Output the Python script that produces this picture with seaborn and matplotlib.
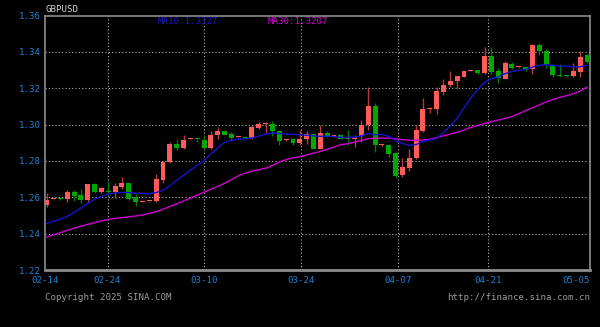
import matplotlib
matplotlib.use("Agg")
import matplotlib.pyplot as plt
import seaborn as sns
import numpy as np
import pandas as pd

# ---- data ----
opens = [1.2558, 1.2588, 1.2592, 1.2591, 1.2627, 1.2612, 1.2585, 1.2671, 1.2629, 1.2636,
         1.2627, 1.2658, 1.2676, 1.2600, 1.2576, 1.2578, 1.2578, 1.2696, 1.2792, 1.2895,
         1.2873, 1.2919, 1.2921, 1.2913, 1.2873, 1.2940, 1.2964, 1.2950, 1.2932, 1.2933,
         1.2928, 1.2982, 1.3003, 1.3004, 1.2964, 1.2915, 1.2918, 1.2899, 1.2918, 1.2946,
         1.2868, 1.2953, 1.2934, 1.2940, 1.2922, 1.2918, 1.2937, 1.2996, 1.3102, 1.2887,
         1.2887, 1.2841, 1.2723, 1.2759, 1.2818, 1.2965, 1.3083, 1.3087, 1.3178, 1.3220,
         1.3238, 1.3263, 1.3294, 1.3298, 1.3283, 1.3376, 1.3292, 1.3252, 1.3334, 1.3315,
         1.3316, 1.3307, 1.3438, 1.3407, 1.3325, 1.3274, 1.3274, 1.3265, 1.3288, 1.3380]
highs = [1.2624, 1.2592, 1.2597, 1.2640, 1.2640, 1.2643, 1.2671, 1.2681, 1.2655, 1.2691,
         1.2680, 1.2711, 1.2680, 1.2616, 1.2580, 1.2582, 1.2727, 1.2797, 1.2904, 1.2922,
         1.2944, 1.2923, 1.2922, 1.2944, 1.2967, 1.2986, 1.2971, 1.2958, 1.2936, 1.2935,
         1.2995, 1.3013, 1.3013, 1.3018, 1.2967, 1.2920, 1.2922, 1.2971, 1.2967, 1.2950,
         1.2995, 1.2967, 1.2937, 1.2942, 1.2971, 1.2944, 1.3027, 1.3205, 1.3118, 1.2892,
         1.2891, 1.2850, 1.2814, 1.2863, 1.3000, 1.3147, 1.3096, 1.3205, 1.3251, 1.3293,
         1.3269, 1.3296, 1.3298, 1.3298, 1.3426, 1.3426, 1.3310, 1.3347, 1.3343, 1.3318,
         1.3316, 1.3444, 1.3448, 1.3416, 1.3334, 1.3334, 1.3274, 1.3338, 1.3407, 1.3380]
lows = [1.2547, 1.2586, 1.2584, 1.2576, 1.2580, 1.2567, 1.2576, 1.2621, 1.2625, 1.2607,
        1.2598, 1.2645, 1.2585, 1.2554, 1.2574, 1.2576, 1.2574, 1.2678, 1.2787, 1.2859,
        1.2868, 1.2917, 1.2905, 1.2868, 1.2868, 1.2922, 1.2940, 1.2915, 1.2930, 1.2922,
        1.2919, 1.2976, 1.2949, 1.2937, 1.2886, 1.2912, 1.2886, 1.2886, 1.2895, 1.2865,
        1.2865, 1.2929, 1.2932, 1.2918, 1.2886, 1.2878, 1.2902, 1.2969, 1.2850, 1.2884,
        1.2821, 1.2707, 1.2714, 1.2745, 1.2810, 1.2960, 1.3065, 1.3060, 1.3163, 1.3209,
        1.3200, 1.3260, 1.3292, 1.3276, 1.3276, 1.3279, 1.3228, 1.3248, 1.3307, 1.3313,
        1.3292, 1.3279, 1.3380, 1.3310, 1.3261, 1.3261, 1.3261, 1.3261, 1.3261, 1.3338]
closes = [1.2585, 1.2590, 1.2588, 1.2627, 1.2605, 1.2585, 1.2671, 1.2627, 1.2651, 1.2631,
          1.2663, 1.2676, 1.2590, 1.2576, 1.2578, 1.2580, 1.2699, 1.2795, 1.2895, 1.2873,
          1.2917, 1.2921, 1.2918, 1.2873, 1.2944, 1.2964, 1.2944, 1.2928, 1.2934, 1.2924,
          1.2987, 1.3004, 1.3006, 1.2967, 1.2909, 1.2918, 1.2899, 1.2922, 1.2946, 1.2868,
          1.2953, 1.2935, 1.2936, 1.2922, 1.2918, 1.2922, 1.2999, 1.3102, 1.2890, 1.2889,
          1.2836, 1.2717, 1.2764, 1.2818, 1.2968, 1.3086, 1.3087, 1.3182, 1.3220, 1.3240,
          1.3265, 1.3294, 1.3296, 1.3283, 1.3376, 1.3288, 1.3257, 1.3338, 1.3312, 1.3317,
          1.3301, 1.3438, 1.3402, 1.3330, 1.3270, 1.3265, 1.3265, 1.3294, 1.3374, 1.3343]
ma10 = [1.2456, 1.2468, 1.2480, 1.2495, 1.2515, 1.2541, 1.2566, 1.2589, 1.2605, 1.2618,
        1.2623, 1.2626, 1.2626, 1.2622, 1.2622, 1.2619, 1.2626, 1.2638, 1.2664, 1.2694,
        1.2721, 1.2749, 1.2776, 1.2801, 1.2837, 1.2872, 1.2902, 1.2914, 1.2920, 1.2922,
        1.2926, 1.2937, 1.2948, 1.2954, 1.2951, 1.2948, 1.2946, 1.2944, 1.2941, 1.2938,
        1.2935, 1.2936, 1.2934, 1.2929, 1.2929, 1.2932, 1.2938, 1.2950, 1.2944, 1.2946,
        1.2935, 1.2913, 1.2896, 1.2885, 1.2890, 1.2907, 1.2915, 1.2923, 1.2956, 1.2992,
        1.3035, 1.3092, 1.3145, 1.3192, 1.3233, 1.3253, 1.3262, 1.3280, 1.3292, 1.3298,
        1.3303, 1.3316, 1.3326, 1.3330, 1.3326, 1.3322, 1.3321, 1.3318, 1.3318, 1.3327]
ma30 = [1.2381, 1.2393, 1.2406, 1.2418, 1.2430, 1.2441, 1.2451, 1.2461, 1.2470, 1.2478,
        1.2484, 1.2488, 1.2493, 1.2497, 1.2503, 1.2511, 1.2521, 1.2534, 1.2549, 1.2564,
        1.2580, 1.2596, 1.2612, 1.2628, 1.2644, 1.2660, 1.2677, 1.2698, 1.2718, 1.2733,
        1.2744, 1.2751, 1.2760, 1.2775, 1.2794, 1.2807, 1.2817, 1.2823, 1.2833, 1.2843,
        1.2852, 1.2864, 1.2877, 1.2889, 1.2895, 1.2903, 1.2913, 1.2922, 1.2925, 1.2926,
        1.2925, 1.2921, 1.2917, 1.2914, 1.2914, 1.2915, 1.2919, 1.2928, 1.2938, 1.2948,
        1.2958, 1.2970, 1.2984, 1.2995, 1.3006, 1.3016, 1.3025, 1.3034, 1.3044, 1.3060,
        1.3077, 1.3092, 1.3108, 1.3124, 1.3138, 1.3149, 1.3159, 1.3170, 1.3184, 1.3207]
date_labels = ["02-14", "02-24", "03-10", "03-24", "04-07", "04-21", "05-05"]
y_levels = [1.22, 1.24, 1.26, 1.28, 1.30, 1.32, 1.34, 1.36]
title_text = "GBPUSD"
ma10_label = "MA10:1.3327"
ma30_label = "MA30:1.3207"

# ---- layout / style ----
W, H = 600, 327
BG = "#000000"
UP_BODY, UP_WICK = "#ff5b5b", "#b83a3a"
DN_BODY, DN_WICK = "#00a800", "#007a00"
MA10_C, MA30_C = "#1414d0", "#d000d0"
AXLBL = "#1f80d0"
GRID = "#b4b4b4"
SPINE = "#8c8c8c"
MONO = "DejaVu Sans Mono"

sns.set_style("dark", {"axes.facecolor": BG, "figure.facecolor": BG})
plt.rcParams["font.family"] = [MONO, "DejaVu Sans"]

fig = plt.figure(figsize=(W / 100, H / 100), dpi=100, facecolor=BG)
ax = fig.add_axes([45 / W, 1 - 270 / H, 545 / W, (270 - 15.5) / H])
ax.set_facecolor(BG)

n = len(closes)
idx = np.arange(n)
df = pd.DataFrame({"idx": idx, "open": opens, "high": highs, "low": lows,
                   "close": closes, "ma10": ma10, "ma30": ma30})
df["up"] = df["close"] >= df["open"]

xlo, xhi = -0.25, 79.42
ax.set_xlim(xlo, xhi)
ax.set_ylim(1.22, 1.36)

# grid
for yv in y_levels[1:-1]:
    ax.axhline(yv, color=GRID, lw=0.8, ls=(0, (1, 2)), zorder=1)
tick_pos = [8.9, 23.0, 37.2, 51.3, 64.5]
for xv in tick_pos:
    ax.axvline(xv, color=GRID, lw=0.8, ls=(0, (1, 2)), zorder=1)

# wicks
up = df[df["up"]]
dn = df[~df["up"]]
ax.vlines(up["idx"], up["low"], up["high"], color=UP_WICK, lw=1.0, zorder=2)
ax.vlines(dn["idx"], dn["low"], dn["high"], color=DN_WICK, lw=1.0, zorder=2)
# bodies
minh = 0.0006
bw = 0.72
for sub, col in ((up, UP_BODY), (dn, DN_BODY)):
    bottom = np.minimum(sub["open"], sub["close"])
    height = np.maximum(np.abs(sub["close"] - sub["open"]), minh)
    ax.bar(sub["idx"], height, bottom=bottom, width=bw, color=col,
           edgecolor="none", linewidth=0, zorder=3)

# moving averages
sns.lineplot(data=df, x="idx", y="ma30", color=MA30_C, lw=1.0, ax=ax, zorder=4)
sns.lineplot(data=df, x="idx", y="ma10", color=MA10_C, lw=1.0, ax=ax, zorder=4)

# axes styling
ax.set_xlabel("")
ax.set_ylabel("")
ax.set_yticks(y_levels)
ax.set_yticklabels([f"{v:.2f}" for v in y_levels])
ax.set_xticks([xlo] + tick_pos + [xhi])
ax.set_xticklabels(date_labels)
ax.tick_params(axis="both", length=0, colors=AXLBL, labelsize=6.6)
ax.tick_params(axis="y", pad=3)
ax.tick_params(axis="x", pad=4)
xt = ax.get_xticklabels()
xt[-1].set_horizontalalignment("right")
ax.set_xticks(idx, minor=True)
ax.tick_params(axis="x", which="minor", direction="in", length=2, color=SPINE, width=0.6)
ax.grid(False)
for s in ax.spines.values():
    s.set_visible(True)
    s.set_color(SPINE)
    s.set_linewidth(1.2)
ax.spines["bottom"].set_linewidth(2.0)

# texts
fig.text(45 / W, 1 - 10 / H, title_text, color="#d0d0d0", fontsize=6.6,
         family=MONO, ha="left", va="center")
fig.text(158 / W, 1 - 21.5 / H, ma10_label, color=MA10_C, fontsize=6.6,
         family=MONO, ha="left", va="center")
fig.text(268 / W, 1 - 21.5 / H, ma30_label, color=MA30_C, fontsize=6.6,
         family=MONO, ha="left", va="center")
fig.text(45 / W, 1 - 297.5 / H, "Copyright 2025 SINA.COM", color="#9a9a9a",
         fontsize=6.6, family=MONO, ha="left", va="center")
fig.text(590 / W, 1 - 297.5 / H, "http://finance.sina.com.cn", color="#9a9a9a",
         fontsize=6.6, family=MONO, ha="right", va="center")

fig.savefig("out.png", dpi=100, facecolor=BG)
